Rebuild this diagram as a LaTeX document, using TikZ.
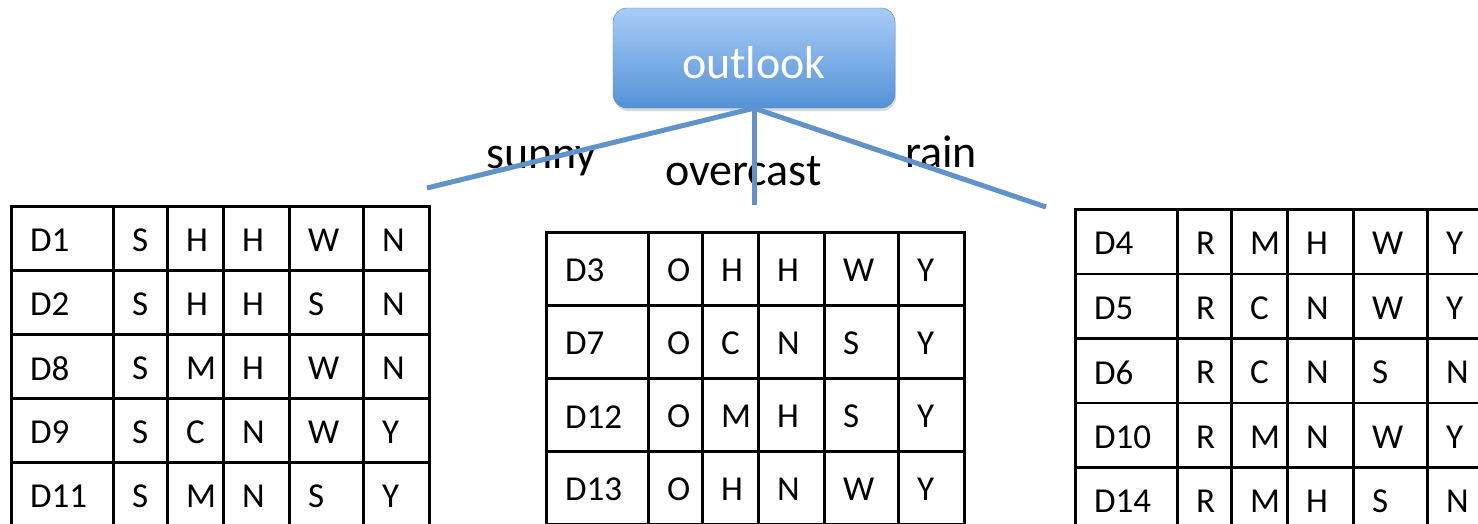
\documentclass[tikz,border=0pt]{standalone}
\usepackage{fontspec}
\setmainfont{Carlito}
\usepackage{tikz}
\usetikzlibrary{positioning,calc,shadows}

\definecolor{attrtop}{RGB}{168,204,248}
\definecolor{attrbot}{RGB}{84,146,214}
\definecolor{attredge}{RGB}{75,131,198}
\definecolor{branchblue}{RGB}{96,146,204}

% one subset table: name, left x, top y, row height, rows
\newcommand{\subsettable}[5]{%
  \foreach \rowtxt [count=\i] in {#5} {
    \foreach \celltxt [count=\j] in \rowtxt {
      \pgfmathsetmacro{\cx}{#2+{0,102,156,212,278,352}[\j-1]}
      \pgfmathsetmacro{\cw}{{102,54,56,66,74,66}[\j-1]}
      \node[cell, minimum width=\cw pt, minimum height=#4 pt] (#1-\i-\j) at (\cx, {#3+(\i-1)*#4}) {};
      \node[celltext, right=20pt of #1-\i-\j.west] {\celltxt};
    }
  }
}

\begin{document}
\begin{tikzpicture}[x=1pt, y=-1pt,
    attr/.style={draw=attredge, rounded corners=14pt, top color=attrtop, bottom color=attrbot, minimum width=282pt, minimum height=100pt, text height=40pt, text depth=0pt, text=white, font=\fontsize{46}{55}\selectfont, drop shadow={shadow xshift=1pt, shadow yshift=-3pt, opacity=0.3}},
    branch/.style={draw=branchblue, line width=5pt},
    val/.style={anchor=base west, inner sep=0pt, font=\fontsize{46}{55}\selectfont},
    cell/.style={draw, line width=2.5pt, anchor=north west, inner sep=0pt},
    celltext/.style={inner sep=0pt, yshift=-2pt, font=\fontsize{35}{42}\selectfont},
]
    \useasboundingbox (0,0) rectangle (1478,523);
    \clip (0,0) rectangle (1478,523);

    % Root attribute
    \node[attr] (outlook) at (754,58) {outlook};

    % Branch labels
    \node[val] (sunny) at (486,168) {sunny};
    \node[val] (overcast) at (665,185) {overcast};
    \node[val] (rain) at (905,167) {rain};

    % Branches
    \coordinate (sunnyEnd) at (427,188);
    \coordinate (overcastEnd) at (754,205);
    \coordinate (rainEnd) at (1046,207);
    \draw[branch] (outlook.south) -- (sunnyEnd);
    \draw[branch] (outlook.south) -- (overcastEnd);
    \draw[branch] (outlook.south) -- (rainEnd);

    % Subsets
    \subsettable{s}{10}{205}{64}{{D1,S,H,H,W,N},{D2,S,H,H,S,N},{D8,S,M,H,W,N},{D9,S,C,N,W,Y},{D11,S,M,N,S,Y}}
    \subsettable{o}{545}{231}{73}{{D3,O,H,H,W,Y},{D7,O,C,N,S,Y},{D12,O,M,H,S,Y},{D13,O,H,N,W,Y}}
    \subsettable{r}{1074}{208}{64.5}{{D4,R,M,H,W,Y},{D5,R,C,N,W,Y},{D6,R,C,N,S,N},{D10,R,M,N,W,Y},{D14,R,M,H,S,N}}
\end{tikzpicture}
\end{document}
